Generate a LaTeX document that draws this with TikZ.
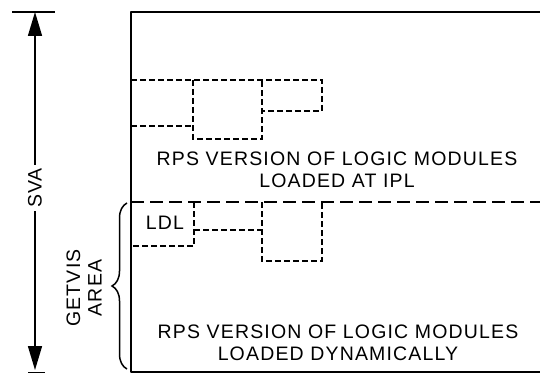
\documentclass[tikz,border=0pt]{standalone}
\usepackage{fontspec}
\setmainfont{Liberation Sans}[LetterSpace=6]
\usetikzlibrary{arrows.meta,decorations.pathreplacing}

\begin{document}
\begin{tikzpicture}[x=1pt,y=-1pt,
    lbl/.style={font=\fontsize{19.5}{21.5}\selectfont,inner sep=0pt,align=center},
    wall/.style={line width=2.4pt,line join=round},
    bigdash/.style={line width=2pt,dash pattern=on 13pt off 6pt},
    smalldash/.style={line width=1.3pt,dash pattern=on 6pt off 3pt},
    svaarrow/.style={line width=1.6pt,-{Triangle[length=24pt,width=14pt]}}]
  \useasboundingbox (0,0) rectangle (540,374);

  % outer wall of the area
  \draw[wall] (540,12) -- (131,12) -- (131,372) -- (540,372);

  % modules loaded at IPL
  \draw[smalldash] (131,80) -- (322,80) -- (322,111) -- (262,111);
  \draw[smalldash] (193,80) -- (193,139) -- (262,139) -- (262,80);
  \draw[smalldash] (131,126) -- (193,126);
  \draw (337,170) node[lbl] (ipltext) {RPS VERSION OF LOGIC MODULES\\LOADED AT IPL};

  % getvis boundary and dynamic modules
  \draw[bigdash] (131,202) -- (540,202);
  \draw[smalldash] (194,202) -- (194,246) -- (131,246);
  \draw[smalldash] (194,230) -- (262,230);
  \draw[smalldash] (262,202) -- (262,261) -- (322,261) -- (322,202);
  \draw (165,223) node[lbl] (ldl) {LDL};
  \draw (338,343) node[lbl] (dyntext) {RPS VERSION OF LOGIC MODULES\\LOADED DYNAMICALLY};

  % SVA extent
  \coordinate (svatop) at (35,12);
  \coordinate (svabot) at (35,370);
  \draw (35,188) node[lbl,rotate=90,inner sep=3pt] (sva) {SVA};
  \draw[svaarrow] (sva.east) -- (svatop);
  \draw[svaarrow] (sva.west) -- (svabot);
  \draw[line width=2.2pt] (12,12) -- (55,12);
  \draw[line width=0.8pt] (28,372) -- (45,372);

  % getvis area brace
  \draw[line width=1.5pt,decorate,decoration={brace,amplitude=15pt}] (127,369) -- (127,203);
  \draw (84,288) node[lbl,rotate=90] (getvis) {GETVIS\\AREA};
\end{tikzpicture}
\end{document}
